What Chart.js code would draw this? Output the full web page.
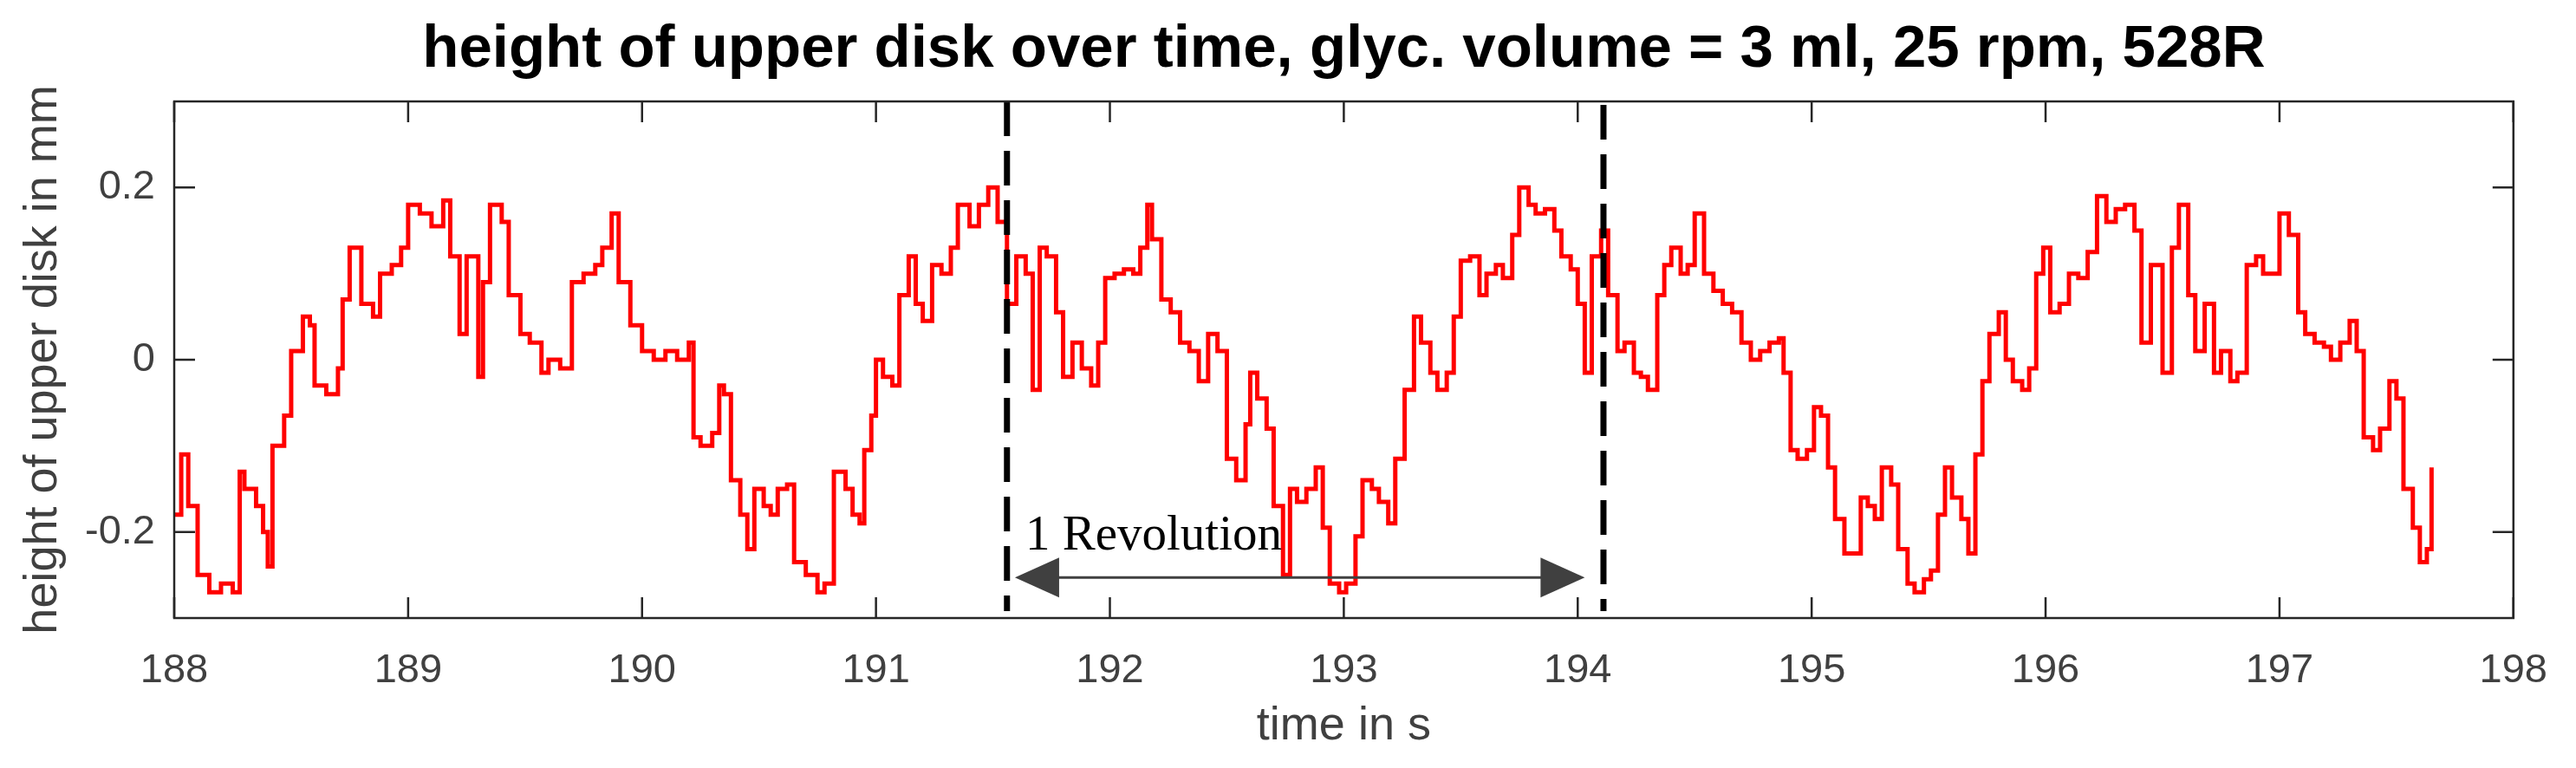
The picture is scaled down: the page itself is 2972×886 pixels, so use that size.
<!DOCTYPE html>
<html><head><meta charset="utf-8">
<script src="https://cdn.jsdelivr.net/npm/chart.js@4"></script>
<style>html,body{margin:0;padding:0;background:#fff}#c{display:block}</style>
</head><body>
<canvas id="c" width="2972" height="886"></canvas>
<script>
const times = [188.0,188.03,188.06,188.1,188.15,188.2,188.25,188.28,188.3,188.35,188.38,188.4,188.42,188.47,188.5,188.55,188.58,188.6,188.65,188.7,188.72,188.75,188.78,188.8,188.85,188.88,188.93,188.97,189.0,189.05,189.1,189.15,189.18,189.22,189.25,189.3,189.32,189.35,189.4,189.43,189.48,189.52,189.57,189.6,189.65,189.7,189.75,189.8,189.83,189.87,189.9,189.95,190.0,190.05,190.1,190.15,190.2,190.22,190.25,190.3,190.33,190.35,190.38,190.42,190.45,190.48,190.52,190.55,190.58,190.62,190.65,190.7,190.75,190.78,190.82,190.87,190.9,190.93,190.95,190.98,191.0,191.03,191.07,191.1,191.14,191.17,191.2,191.24,191.28,191.32,191.35,191.4,191.44,191.48,191.52,191.56,191.6,191.64,191.67,191.7,191.73,191.77,191.8,191.84,191.88,191.92,191.95,191.98,192.02,192.06,192.1,192.13,192.16,192.18,192.22,192.26,192.3,192.34,192.38,192.42,192.46,192.5,192.54,192.58,192.6,192.63,192.67,192.7,192.74,192.77,192.8,192.84,192.88,192.91,192.94,192.98,193.01,193.05,193.08,193.12,193.15,193.19,193.22,193.26,193.3,193.33,193.37,193.4,193.44,193.47,193.5,193.54,193.58,193.61,193.65,193.68,193.72,193.75,193.79,193.82,193.86,193.9,193.93,193.97,194.0,194.03,194.06,194.1,194.13,194.17,194.2,194.24,194.27,194.3,194.34,194.37,194.4,194.44,194.47,194.5,194.54,194.58,194.62,194.66,194.7,194.74,194.78,194.82,194.86,194.88,194.91,194.94,194.98,195.01,195.04,195.07,195.1,195.14,195.18,195.21,195.24,195.27,195.3,195.34,195.37,195.41,195.44,195.48,195.51,195.54,195.57,195.6,195.64,195.67,195.7,195.73,195.76,195.8,195.83,195.86,195.9,195.93,195.96,195.99,196.02,196.06,196.1,196.14,196.18,196.22,196.26,196.3,196.34,196.38,196.41,196.45,196.5,196.54,196.57,196.61,196.64,196.68,196.72,196.75,196.79,196.82,196.86,196.9,196.93,196.96,197.0,197.04,197.08,197.11,197.15,197.19,197.22,197.26,197.3,197.33,197.36,197.4,197.43,197.47,197.5,197.53,197.57,197.6,197.63,197.65];
const heights = [-0.18,-0.11,-0.17,-0.25,-0.27,-0.26,-0.27,-0.13,-0.15,-0.17,-0.2,-0.24,-0.1,-0.065,0.01,0.05,0.04,-0.03,-0.04,-0.01,0.07,0.13,0.13,0.065,0.05,0.1,0.11,0.13,0.18,0.17,0.155,0.185,0.12,0.03,0.12,-0.02,0.09,0.18,0.16,0.075,0.03,0.02,-0.015,0.0,-0.01,0.09,0.1,0.11,0.13,0.17,0.09,0.04,0.01,0.0,0.01,0.0,0.02,-0.09,-0.1,-0.085,-0.03,-0.04,-0.14,-0.18,-0.22,-0.15,-0.17,-0.18,-0.15,-0.145,-0.235,-0.25,-0.27,-0.26,-0.13,-0.15,-0.18,-0.19,-0.105,-0.065,0.0,-0.02,-0.03,0.075,0.12,0.065,0.045,0.11,0.1,0.13,0.18,0.155,0.18,0.2,0.16,0.065,0.12,0.1,-0.035,0.13,0.12,0.055,-0.02,0.02,-0.01,-0.03,0.02,0.095,0.1,0.105,0.1,0.13,0.18,0.14,0.07,0.055,0.02,0.01,-0.025,0.03,0.01,-0.115,-0.14,-0.075,-0.015,-0.045,-0.08,-0.17,-0.25,-0.15,-0.165,-0.15,-0.125,-0.195,-0.26,-0.27,-0.26,-0.205,-0.14,-0.15,-0.165,-0.19,-0.115,-0.035,0.05,0.02,-0.015,-0.035,-0.015,0.05,0.115,0.12,0.075,0.1,0.11,0.095,0.145,0.2,0.18,0.17,0.175,0.15,0.12,0.105,0.065,-0.015,0.12,0.15,0.075,0.01,0.02,-0.015,-0.02,-0.035,0.075,0.11,0.13,0.1,0.11,0.17,0.1,0.08,0.065,0.055,0.02,0.0,0.01,0.02,0.025,-0.015,-0.105,-0.115,-0.105,-0.055,-0.065,-0.125,-0.185,-0.225,-0.225,-0.16,-0.17,-0.185,-0.125,-0.145,-0.22,-0.26,-0.27,-0.255,-0.245,-0.18,-0.125,-0.16,-0.185,-0.225,-0.11,-0.025,0.03,0.055,0.0,-0.025,-0.035,-0.01,0.1,0.13,0.055,0.065,0.1,0.095,0.125,0.19,0.16,0.175,0.18,0.15,0.02,0.11,-0.015,0.13,0.18,0.075,0.01,0.065,-0.015,0.01,-0.025,-0.015,0.11,0.12,0.1,0.1,0.17,0.145,0.055,0.03,0.02,0.015,0.0,0.02,0.045,0.01,-0.09,-0.105,-0.08,-0.025,-0.045,-0.15,-0.195,-0.235,-0.22,-0.125];
const xTicks = [188,189,190,191,192,193,194,195,196,197,198];
const xTickLabels = ['188','189','190','191','192','193','194','195','196','197','198'];
const yTicks = [-0.2,0,0.2];
const yTickLabels = ['-0.2','0','0.2'];
const revolutionMarks = [191.56, 194.11];
const arrowSpan = [191.594, 194.03];
const arrowLevel = -0.253;
const titleText = 'height of upper disk over time, glyc. volume = 3 ml, 25 rpm, 528R';
const xTitle = 'time in s';
const yTitle = 'height of upper disk in mm';
const noteText = '1 Revolution';

const deco = {
  id:'deco',
  afterDatasetsDraw(chart){
    const {ctx, chartArea:a, scales:{x,y}} = chart;
    ctx.save();
    ctx.strokeStyle='#000'; ctx.lineWidth=7; ctx.setLineDash([40,17]);
    revolutionMarks.forEach((t,i)=>{
      const px=x.getPixelForValue(t);
      ctx.beginPath(); ctx.moveTo(px,a.top+(i?4:0)); ctx.lineTo(px,a.bottom-8); ctx.stroke();
    });
    ctx.setLineDash([]);
    const x1=x.getPixelForValue(arrowSpan[0]), x2=x.getPixelForValue(arrowSpan[1]), ay=y.getPixelForValue(arrowLevel);
    ctx.strokeStyle='#404040'; ctx.fillStyle='#404040'; ctx.lineWidth=3;
    ctx.beginPath(); ctx.moveTo(x1+40,ay); ctx.lineTo(x2-40,ay); ctx.stroke();
    ctx.beginPath(); ctx.moveTo(x1,ay); ctx.lineTo(x1+51,ay-23); ctx.lineTo(x1+51,ay+23); ctx.closePath(); ctx.fill();
    ctx.beginPath(); ctx.moveTo(x2,ay); ctx.lineTo(x2-51,ay-23); ctx.lineTo(x2-51,ay+23); ctx.closePath(); ctx.fill();
    ctx.fillStyle='#000'; ctx.font='57px "Liberation Serif", serif'; ctx.textAlign='left'; ctx.textBaseline='alphabetic';
    ctx.fillText(noteText, x1+12, ay-32);
    ctx.strokeStyle='#262626'; ctx.lineWidth=2.5;
    ctx.strokeRect(a.left,a.top,a.right-a.left,a.bottom-a.top);
    ctx.beginPath();
    xTicks.forEach(t=>{const px=x.getPixelForValue(t); ctx.moveTo(px,a.bottom); ctx.lineTo(px,a.bottom-24); ctx.moveTo(px,a.top); ctx.lineTo(px,a.top+24);});
    yTicks.forEach(v=>{const py=y.getPixelForValue(v); ctx.moveTo(a.left,py); ctx.lineTo(a.left+24,py); ctx.moveTo(a.right,py); ctx.lineTo(a.right-24,py);});
    ctx.stroke();
    ctx.fillStyle='#000'; ctx.font='bold 69px "Liberation Sans", Arial, sans-serif'; ctx.textAlign='center'; ctx.textBaseline='middle';
    ctx.fillText(titleText, (a.left+a.right)/2, 58);
    ctx.fillStyle='#404040'; ctx.font='54px "Liberation Sans", Arial, sans-serif';
    ctx.fillText(xTitle, (a.left+a.right)/2, 838);
    ctx.translate(50,(a.top+a.bottom)/2); ctx.rotate(-Math.PI/2);
    ctx.fillText(yTitle,0,0);
    ctx.restore();
  }
};

new Chart(document.getElementById('c'), {
  type:'line',
  data:{datasets:[{data:times.map((t,i)=>({x:t,y:heights[i]})), borderColor:'#ff0000', borderWidth:5, pointRadius:0, stepped:true, tension:0}]},
  options:{
    responsive:false, animation:false, devicePixelRatio:1,
    layout:{padding:{top:117,right:55,left:0,bottom:0}},
    plugins:{legend:{display:false},title:{display:false},tooltip:{enabled:false}},
    scales:{
      x:{type:'linear',min:188,max:198,
        afterBuildTicks:s=>{s.ticks=xTicks.map(v=>({value:v}));},
        afterFit:s=>{s.height=173;},
        grid:{display:false,drawTicks:false}, border:{display:false},
        ticks:{padding:33,color:'#404040',font:{size:47,family:'"Liberation Sans", Arial, sans-serif'},
          callback:(v,i)=>xTickLabels[i],maxRotation:0,autoSkip:false}},
      y:{type:'linear',min:-0.3,max:0.3,
        afterBuildTicks:s=>{s.ticks=yTicks.map(v=>({value:v}));},
        afterFit:s=>{s.width=201;},
        grid:{display:false,drawTicks:false}, border:{display:false},
        ticks:{padding:22,color:'#404040',font:{size:47,family:'"Liberation Sans", Arial, sans-serif'},
          callback:(v,i)=>yTickLabels[i]}}
    }
  },
  plugins:[deco]
});
</script>
</body></html>
